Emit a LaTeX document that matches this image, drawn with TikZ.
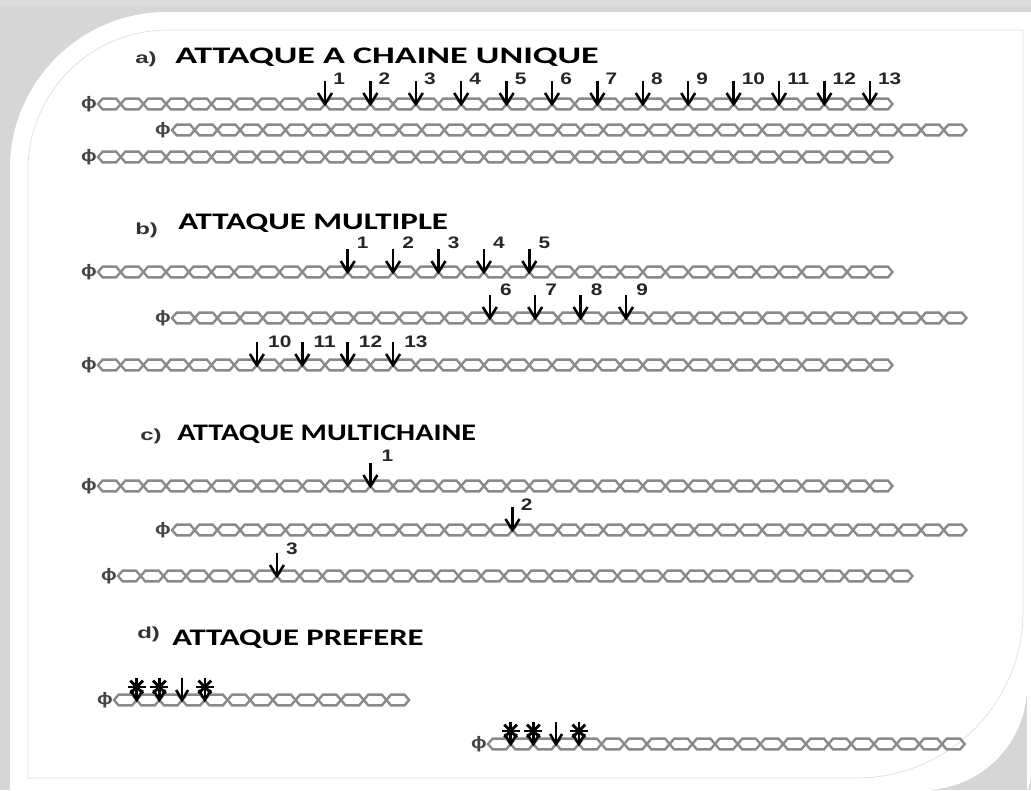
\documentclass[tikz,border=0pt]{standalone}
\usepackage{fontspec}
\usepackage{graphicx}
\setmainfont{Liberation Sans}
\newfontfamily\titlefont{Carlito}
\definecolor{linkgray}{HTML}{8A8A8A}
\definecolor{phigray}{HTML}{454545}
\definecolor{shadowgray}{HTML}{D6D6D6}
\definecolor{edgegray}{HTML}{DDDDDD}
\def\p{22.7}
\tikzset{
  link/.style={draw=linkgray, line width=1.8pt, line join=miter},
  phi/.style={inner sep=0pt, text=phigray, font=\fontsize{12.5}{12.5}\selectfont\bfseries},
  att/.style={draw=black, line width=1.9pt, line join=miter},
  spoke/.style={draw=black, line width=2.1pt},
  num/.style={inner sep=0pt, text=black!85, font=\fontsize{12.5}{12.5}\selectfont\bfseries},
  ttl/.style={inner sep=0pt, font=\titlefont\fontsize{17.8}{17.8}\selectfont\bfseries},
  lab/.style={inner sep=0pt, text=black!80, font=\fontsize{12}{12}\selectfont\bfseries},
}
% chain: name, start x, y, number of links
\newcommand\chainrow[4]{%
  \node[phi] (#1) at ({#2-9},#3) {\scalebox{1.25}[1]{\char"03D5}};
  \foreach \i in {1,...,#4}{
    \draw[link] ({#2+(\i-1)*\p},#3) -- ++(4.6,-5.4) -- ++(13.5,0) -- ++(4.6,5.4) -- ++(-4.6,5.4) -- ++(-13.5,0) -- cycle;
  }%
}
% attack arrow: name, start x, junction index, y, label, label dx, label dy
\newcommand\attack[7]{%
  \pgfmathsetmacro\ax{#2+#3*\p}%
  \coordinate (#1h) at (\ax,#4);
  \coordinate (#1t) at (\ax,{#4-23});
  \draw[att] (#1t) -- (#1h);
  \draw[att] (#1h) ++(-7,-11) -- (#1h) -- ++(7,-11);
  \node[num, anchor=base west] (#1l) at ({\ax+#6},{#4-#7}) {\scalebox{1.25}[1]{#5}};
}
% preferred attack (asterisk): name, start x, junction index, y
\newcommand\burst[4]{%
  \pgfmathsetmacro\ax{#2+#3*\p}%
  \coordinate (#1h) at (\ax,#4);
  \coordinate (#1c) at (\ax,{#4-13});
  \draw[att] (#1h) ++(0,-22) -- (#1h);
  \draw[att] (#1h) ++(-6,-10) -- (#1h) -- ++(6,-10);
  \foreach \a in {0,45,135}{
    \draw[spoke] (#1c) ++(\a:9) -- ++(\a+180:18);
  }%
}
\newcommand\plainatt[4]{%
  \pgfmathsetmacro\ax{#2+#3*\p}%
  \coordinate (#1h) at (\ax,#4);
  \coordinate (#1t) at (\ax,{#4-22});
  \draw[att] (#1t) -- (#1h);
  \draw[att] (#1h) ++(-6,-10) -- (#1h) -- ++(6,-10);
}
\begin{document}
\begin{tikzpicture}[x=0.75pt, y=-0.75pt]
\useasboundingbox (0,0) rectangle (1031,790);
% background and card
\fill[shadowgray] (0,0) rectangle (1031,790);
\fill[black!14] (0,0) rectangle (1031,6);
\fill[white] (10,790) {[rounded corners=118] -- (10,12)} -- (1031,12) -- (1031,700) {[rounded corners=80] -- (1027,700) -- (1027,790)} -- cycle;
\fill[white] (10,790) {[rounded corners=118] -- (10,12)} -- (1027,12) {[rounded corners=78] -- (1027,790)} -- cycle;
\draw[edgegray, line width=0.5pt] (28,778) {[rounded corners=105] -- (28,30)} -- (1023,30) {[rounded corners=125] -- (1023,778)} -- cycle;

% ---------- a) ----------
\node[lab, anchor=base west] (la) at (135,63) {\scalebox{1.5}[1]{a)}};
\node[ttl, anchor=base west] (ta) at (175,63) {\scalebox{1.52}[1]{ATTAQUE A CHAINE UNIQUE}};
\chainrow{a1}{98}{104}{35}
\chainrow{a2}{172}{130}{35}
\chainrow{a3}{98}{157}{35}
\foreach \k in {1,...,13}{
  \pgfmathtruncatemacro\j{8+2*\k}
  \attack{aa\k}{98}{\j}{104}{\k}{8}{20}
}

% ---------- b) ----------
\node[lab, anchor=base west] (lb) at (135,234) {\scalebox{1.5}[1]{b)}};
\node[ttl, anchor=base west] (tb) at (178,229) {\scalebox{1.39}[1]{ATTAQUE MULTIPLE}};
\chainrow{b1}{98}{272}{35}
\chainrow{b2}{172}{318}{35}
\chainrow{b3}{98}{365}{35}
\foreach \k in {1,...,5}{
  \pgfmathtruncatemacro\j{9+2*\k}
  \attack{ba\k}{98}{\j}{272}{\k}{9}{24}
}
\foreach \k in {6,...,9}{
  \pgfmathtruncatemacro\j{2+2*\k}
  \attack{ba\k}{172}{\j}{318}{\k}{10}{23}
}
\foreach \k in {10,...,13}{
  \pgfmathtruncatemacro\j{2*\k-13}
  \attack{ba\k}{98}{\j}{365}{\k}{11}{18}
}

% ---------- c) ----------
\node[lab, anchor=base west] (lc) at (140,440) {\scalebox{1.5}[1]{c)}};
\node[ttl, anchor=base west] (tc) at (177,440) {\scalebox{1.27}[1]{ATTAQUE MULTICHAINE}};
\chainrow{c1}{98}{486}{35}
\chainrow{c2}{172}{530}{35}
\chainrow{c3}{118}{576}{35}
\attack{ca1}{98}{12}{486}{1}{11}{25}
\attack{ca2}{172}{15}{530}{2}{8}{20}
\attack{ca3}{118}{7}{576}{3}{9}{22}

% ---------- d) ----------
\node[lab, anchor=base west] (ld) at (137,638) {\scalebox{1.5}[1]{d)}};
\node[ttl, anchor=base west] (td) at (172,645) {\scalebox{1.38}[1]{ATTAQUE PREFERE}};
\chainrow{d1}{114}{700}{13}
\chainrow{d2}{488}{744}{21}
\burst{da1}{114}{1}{700}
\burst{da2}{114}{2}{700}
\plainatt{da3}{114}{3}{700}
\burst{da4}{114}{4}{700}
\burst{db1}{488}{1}{744}
\burst{db2}{488}{2}{744}
\plainatt{db3}{488}{3}{744}
\burst{db4}{488}{4}{744}
\end{tikzpicture}
\end{document}
